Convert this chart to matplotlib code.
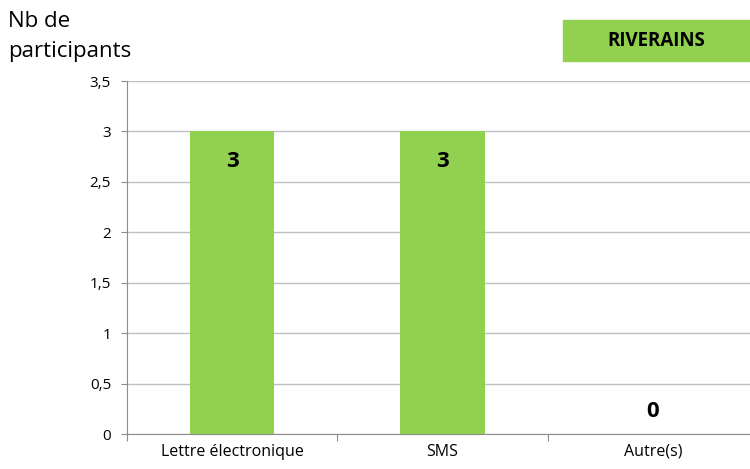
import matplotlib
matplotlib.use("Agg")
import matplotlib.pyplot as plt
from matplotlib.patches import Rectangle

# data
categories = ["Lettre électronique", "SMS", "Autre(s)"]
values = [3, 3, 0]
yticks = [0, 0.5, 1, 1.5, 2, 2.5, 3, 3.5]
ytick_labels = ["0", "0,5", "1", "1,5", "2", "2,5", "3", "3,5"]
legend_label = "RIVERAINS"

green = "#92D050"
grid_col = "#BFBFBF"
axis_col = "#8C8C8C"

plt.rcParams["font.family"] = ["Open Sans", "DejaVu Sans"]

fig = plt.figure(figsize=(7.5, 4.69), dpi=100)
ax = fig.add_axes([127 / 750, 35 / 469, 631 / 750, 353 / 469])

x = range(len(categories))
ax.bar(x, values, width=0.4, color=green, zorder=3)

for xi, v in zip(x, values):
    if v > 0:
        ax.text(xi, v - 0.19, str(v), ha="center", va="top",
                fontsize=16, fontweight="bold", zorder=4)
    else:
        ax.text(xi, v + 0.12, str(v), ha="center", va="bottom",
                fontsize=16, fontweight="bold", zorder=4)

ax.set_xlim(-0.5, 2.5)
ax.set_ylim(0, 3.5)
ax.set_yticks(yticks)
ax.set_yticklabels(ytick_labels, fontsize=11)
ax.yaxis.grid(True, color=grid_col, linewidth=1, zorder=0)

ax.set_xticks([-0.5, 0.5, 1.5, 2.5])
ax.set_xticklabels([])
ax.set_xticks(list(x), minor=True)
ax.set_xticklabels(categories, minor=True, fontsize=11.5)
ax.tick_params(axis="x", which="minor", length=0, pad=7)
ax.tick_params(axis="x", which="major", length=5, color=axis_col)
ax.tick_params(axis="y", length=4.5, color=axis_col, pad=7)

for s in ["top", "right"]:
    ax.spines[s].set_visible(False)
for s in ["left", "bottom"]:
    ax.spines[s].set_color(axis_col)

fig.text(8 / 750, 1 - 27 / 469, "Nb de", fontsize=16,
         va="baseline", ha="left")
fig.text(8 / 750, 1 - 57 / 469, "participants", fontsize=16,
         va="baseline", ha="left")

# legend box in the corner
box = Rectangle((563 / 750, 1 - 61 / 469), 187 / 750, 41 / 469,
                transform=fig.transFigure, color=green, zorder=5)
fig.patches.append(box)
fig.text(656 / 750, 1 - 41 / 469, legend_label, fontsize=13.5,
         fontweight="bold", ha="center", va="center", zorder=6)

fig.savefig("out.png", dpi=100)
